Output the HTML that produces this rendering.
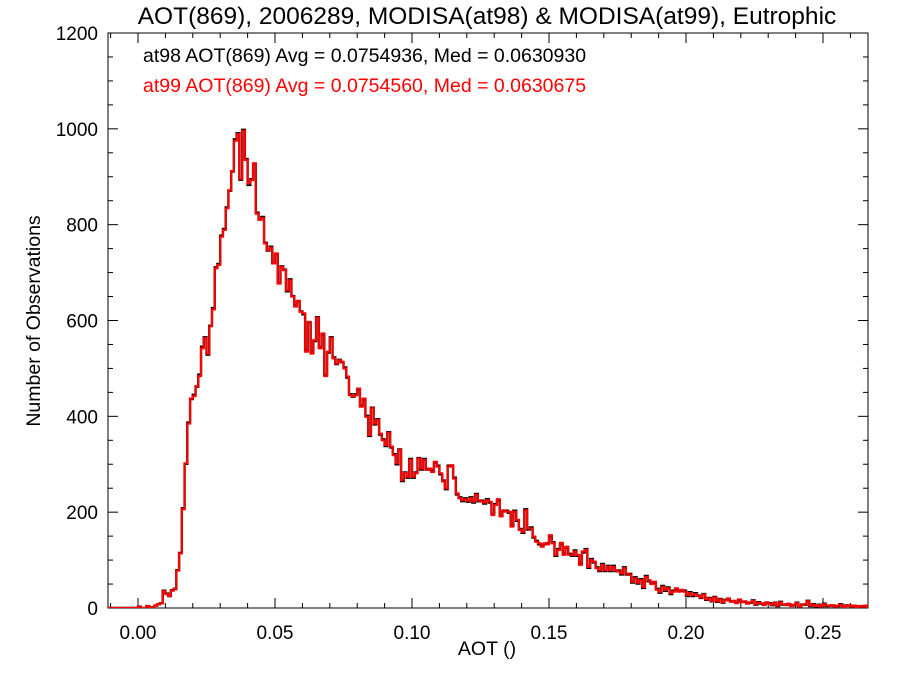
<!DOCTYPE html>
<html><head><meta charset="utf-8"><style>
body{margin:0;background:#fff;}
svg{display:block;font-family:"Liberation Sans",sans-serif;}
</style></head><body>
<svg id="chart" width="900" height="675" xmlns="http://www.w3.org/2000/svg">
<text x="487" y="24" font-size="24.5" text-anchor="middle">AOT(869), 2006289, MODISA(at98) &amp; MODISA(at99), Eutrophic</text>
<text x="143" y="62" font-size="19.5" fill="#000">at98 AOT(869) Avg = 0.0754936, Med = 0.0630930</text>
<text x="143" y="92" font-size="19.5" fill="#ff0000">at99 AOT(869) Avg = 0.0754560, Med = 0.0630675</text>
<text x="487" y="655" font-size="19.5" text-anchor="middle">AOT ()</text>
<text x="40" y="321" font-size="19.5" text-anchor="middle" transform="rotate(-90 40 321)">Number of Observations</text>
<g id="axes"></g>
<g id="series"></g>
</svg>
<script>
const xTicks=[0.00,0.05,0.10,0.15,0.20,0.25];
const xTickLabels=["0.00","0.05","0.10","0.15","0.20","0.25"];
const yTicks=[0,200,400,600,800,1000,1200];
const yTickLabels=["0","200","400","600","800","1000","1200"];
const binStart=-0.011;
const binWidth=0.001;
const at99=[0,0,0,0,0,0,0,0,0,0,0,
3,0,0,4,2,0,5,8,10,
35,29,25,36,39,78,114,206,302,385,437,442,463,484,542,563,531,588,623,709,716,775,789,834,872,912,975,989,896,996,935,886,893,928,823,810,814,761,747,752,719,740,677,712,705,663,684,
650,
629,641,618,615,535,597,531,559,606,542,573,484,535,563,521,510,517,514,500,483,444,442,444,458,420,437,399,361,417,385,392,364,350,340,366,337,319,302,330,267,282,274,309,274,281,312,291,309,288,291,284,305,295,281,264,250,295,298,270,239,229,225,227,224,229,222,236,225,222,220,225,222,194,
215,227,191,204,201,201,170,201,184,163,159,204,166,166,149,138,135,128,135,133,152,135,111,121,136,111,128,111,111,118,111,90,118,121,86,100,97,83,79,90,79,86,79,86,79,76,72,83,72,69,55,62,53,58,44,65,58,50,55,38,34,44,38,41,31,34,41,34,38,34,27,31,27,29,
25,22,28,18,20,15,22,14,18,12,16,20,13,15,10,18,12,14,9,12,15,8,11,10,6,12,9,7,10,5,12,8,6,9,4,7,10,3,6,8,14,5,7,4,6,3,8,5,4,6,3,5,7,2,4,6,3,5,2,4,3,5,2];
const at98=[0,0,0,0,0,0,0,0,0,0,0,
3,0,0,4,2,0,5,8,10,
36,30,25,37,40,79,115,208,301,387,436,445,462,487,545,565,529,589,626,711,718,777,791,836,871,911,978,991,894,998,937,883,895,927,825,811,816,762,746,754,720,739,678,713,706,661,686,
651,
631,640,619,613,538,596,533,557,607,544,571,486,533,565,523,509,518,513,502,481,446,441,446,456,422,435,401,359,418,383,394,362,352,338,367,335,321,300,331,265,283,272,311,272,283,313,289,311,290,289,286,303,297,279,266,248,297,297,272,237,231,223,229,222,231,220,238,223,224,218,227,220,196,
217,225,193,202,203,199,172,203,182,165,157,206,164,168,147,140,133,130,133,135,150,137,109,123,134,113,126,113,109,120,109,92,116,123,84,102,95,85,77,92,77,88,77,88,77,78,70,85,70,71,53,64,51,60,42,67,56,52,53,40,32,46,36,43,29,36,39,36,36,36,25,33,25,31,
26,21,29,17,21,14,23,13,19,11,17,19,14,14,11,17,13,13,10,11,16,7,12,9,7,11,10,6,11,4,13,7,7,8,5,6,11,2,7,7,15,4,8,3,7,2,9,4,5,5,4,4,8,1,5,5,4,4,3,3,4,4,2];

const PL=108,PR=868,PT=33,PB=608;
const X0=-0.01095,X1=0.26642,Y0=0,Y1=1200;
function xs(v){return PL+(v-X0)/(X1-X0)*(PR-PL);}
function ys(v){return PB-(v-Y0)/(Y1-Y0)*(PB-PT);}
const NS="http://www.w3.org/2000/svg";
function mk(tag,attrs,parent){const e=document.createElementNS(NS,tag);for(const k in attrs)e.setAttribute(k,attrs[k]);parent.appendChild(e);return e;}
const axes=document.getElementById('axes');
const frame=mk('rect',{x:PL,y:PT,width:PR-PL,height:PB-PT,fill:'none',stroke:'#000','stroke-width':1},axes);


for(let i=-1;i<=26;i++){const v=i*0.01;const x=xs(v);if(x<PL||x>PR)continue;const major=(i%5===0);const L=major?10:5;
 const t1=mk('line',{x1:x,y1:PB,x2:x,y2:PB-L,stroke:'#000'},axes);
 
 
 const t2=mk('line',{x1:x,y1:PT,x2:x,y2:PT+L,stroke:'#000'},axes);
 
 }
xTicks.forEach((v,i)=>{const t=mk('text',{x:xs(v),y:PB+31,'font-size':19,'text-anchor':'middle'},axes);t.textContent=xTickLabels[i];
 
 });
for(let v=0;v<=1200;v+=50){const y=ys(v);const major=(v%200===0);const L=major?10:5;
 const t1=mk('line',{x1:PL,y1:y,x2:PL+L,y2:y,stroke:'#000'},axes);
 
 
 const t2=mk('line',{x1:PR,y1:y,x2:PR-L,y2:y,stroke:'#000'},axes);
 
 }
yTicks.forEach((v,i)=>{const t=mk('text',{x:PL-10,y:ys(v)+7,'font-size':19,'text-anchor':'end'},axes);t.textContent=yTickLabels[i];
 
 });
function stepPath(arr){let d='';for(let i=0;i<arr.length;i++){const xa=xs(binStart+i*binWidth),xb=xs(binStart+(i+1)*binWidth),y=ys(arr[i]);d+=(i===0?'M':'L')+xa.toFixed(2)+','+y.toFixed(2)+'L'+xb.toFixed(2)+','+y.toFixed(2);}return d;}
const series=document.getElementById('series');
const cp=mk('clipPath',{id:'clip'},series);mk('rect',{x:PL,y:PT,width:PR-PL,height:PB-PT},cp);
const p1=mk('path',{d:stepPath(at98),fill:'none',stroke:'#000','stroke-width':2.4,'clip-path':'url(#clip)'},series);


const p2=mk('path',{d:stepPath(at99),fill:'none',stroke:'#ff0000','stroke-width':2.1,'clip-path':'url(#clip)'},series);


</script>
</body></html>
